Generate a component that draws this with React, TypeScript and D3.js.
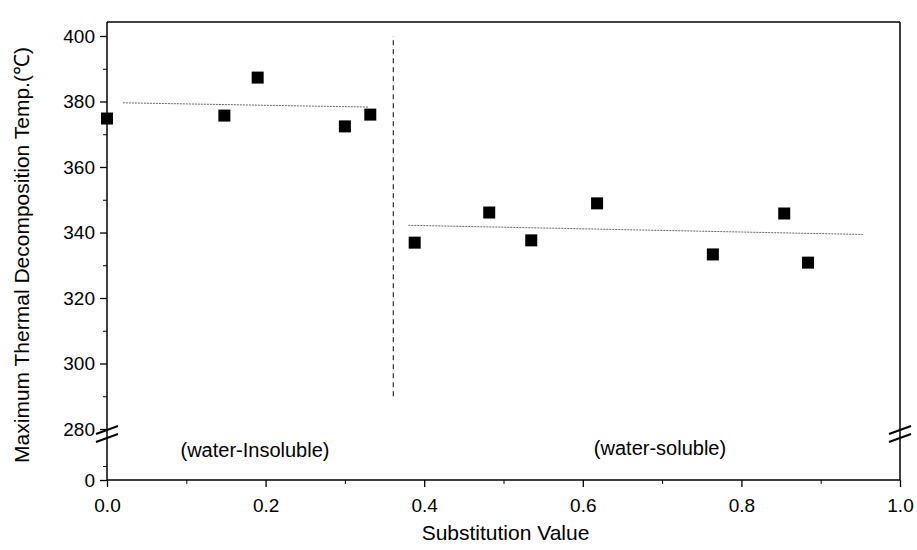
import React, { useRef, useEffect } from 'react';
import * as d3 from 'd3';

// substitution value vs max thermal decomposition temperature
const subValues = [0.0, 0.148, 0.19, 0.30, 0.332, 0.388, 0.482, 0.535, 0.618, 0.764, 0.854, 0.884];
const tempValues = [374.8, 375.7, 387.3, 372.4, 376.0, 336.9, 346.1, 337.6, 348.9, 333.3, 345.8, 330.8];

// fitted lines (start, end)
const fitInsolubleX = [0.02, 0.33];
const fitInsolubleY = [379.6, 378.3];
const fitSolubleX = [0.38, 0.953];
const fitSolubleY = [342.2, 339.4];

const dividerX = 0.361;
const dividerY = [290, 400];

const xTicks = [0.0, 0.2, 0.4, 0.6, 0.8, 1.0];
const xMinorTicks = [0.1, 0.3, 0.5, 0.7, 0.9];
const yTicks = [280, 300, 320, 340, 360, 380, 400];
const yMinorTicks = [290, 310, 330, 350, 370, 390];
const yLowTicks = [0];
const yLowMinorTicks = [10];

const FONT = '"Liberation Sans", Arial, Helvetica, sans-serif';

const App = () => {
  const svgRef = useRef<SVGSVGElement>(null);

  useEffect(() => {
    const svg = d3.select(svgRef.current);
    svg.selectAll('*').remove();

    const left = 107, right = 900, top = 22, bottom = 480;

    const x = d3.scaleLinear().domain([0, 1]).range([left, right]);
    const y = d3.scaleLinear().domain([280, 400]).range([429, 36]);
    const yLow = d3.scaleLinear().domain([0, 20]).range([bottom, 452]);

    const g = svg.append('g');

    // frame
    const frame = [
      [left, top, right, top],
      [right, top, right, bottom],
      [left, top, left, bottom],
      [left, bottom, right, bottom],
    ];
    frame.forEach(([x1, y1, x2, y2]) => {
      g.append('line').attr('x1', x1).attr('y1', y1).attr('x2', x2).attr('y2', y2)
        .attr('stroke', '#000').attr('stroke-width', 1.5);
    });

    // x axis
    const xAxis = g.append('g').attr('transform', `translate(0,${bottom})`)
      .call(d3.axisBottom(x).tickValues(xTicks).tickSize(7).tickPadding(12).tickFormat(d3.format('.1f')));
    xAxis.select('.domain').remove();
    xAxis.selectAll('line').attr('stroke-width', 1.3);
    xAxis.selectAll('text').style('font-family', FONT).style('font-size', '19px').attr('fill', '#000');

    const xMinor = g.append('g').attr('transform', `translate(0,${bottom})`)
      .call(d3.axisBottom(x).tickValues(xMinorTicks).tickSize(4).tickFormat(() => ''));
    xMinor.select('.domain').remove();

    // y axis (upper segment)
    const yAxis = g.append('g').attr('transform', `translate(${left},0)`)
      .call(d3.axisLeft(y).tickValues(yTicks).tickSize(7).tickPadding(5));
    yAxis.select('.domain').remove();
    yAxis.selectAll('line').attr('stroke-width', 1.3);
    yAxis.selectAll('text').style('font-family', FONT).style('font-size', '19px').attr('fill', '#000');

    const yMinor = g.append('g').attr('transform', `translate(${left},0)`)
      .call(d3.axisLeft(y).tickValues(yMinorTicks).tickSize(4).tickFormat(() => ''));
    yMinor.select('.domain').remove();

    // y axis (lower segment)
    const yLowAxis = g.append('g').attr('transform', `translate(${left},0)`)
      .call(d3.axisLeft(yLow).tickValues(yLowTicks).tickSize(7).tickPadding(5));
    yLowAxis.select('.domain').remove();
    yLowAxis.selectAll('line').attr('stroke-width', 1.3);
    yLowAxis.selectAll('text').style('font-family', FONT).style('font-size', '19px').attr('fill', '#000');

    const yLowMinor = g.append('g').attr('transform', `translate(${left},0)`)
      .call(d3.axisLeft(yLow).tickValues(yLowMinorTicks).tickSize(4).tickFormat(() => ''));
    yLowMinor.select('.domain').remove();

    // axis break marks
    const breakY = 434;
    [left, right].forEach(ax => {
      [-4, 4].forEach(off => {
        g.append('line')
          .attr('x1', ax - 11).attr('y1', breakY + off + 4)
          .attr('x2', ax + 11).attr('y2', breakY + off - 4)
          .attr('stroke', '#000').attr('stroke-width', 2);
      });
    });

    // divider
    g.append('line')
      .attr('x1', x(dividerX)).attr('x2', x(dividerX))
      .attr('y1', y(dividerY[0])).attr('y2', y(dividerY[1]))
      .attr('stroke', '#000').attr('stroke-width', 1).attr('stroke-dasharray', '5,4');

    // fitted lines
    const line = d3.line<[number, number]>().x(d => x(d[0])).y(d => y(d[1]));
    g.append('path')
      .attr('d', line(fitInsolubleX.map((v, i) => [v, fitInsolubleY[i]] as [number, number])))
      .attr('stroke', '#666').attr('stroke-width', 1).attr('fill', 'none').attr('stroke-dasharray', '2,1');
    g.append('path')
      .attr('d', line(fitSolubleX.map((v, i) => [v, fitSolubleY[i]] as [number, number])))
      .attr('stroke', '#666').attr('stroke-width', 1).attr('fill', 'none').attr('stroke-dasharray', '2,1');

    // points
    const s = 12;
    g.selectAll('.pt')
      .data(subValues.map((v, i) => [v, tempValues[i]]))
      .join('rect')
      .attr('class', 'pt')
      .attr('x', d => x(d[0]) - s / 2)
      .attr('y', d => y(d[1]) - s / 2)
      .attr('width', s)
      .attr('height', s)
      .attr('fill', '#000');

    // region labels
    g.append('text').attr('x', 255).attr('y', 457).attr('text-anchor', 'middle')
      .style('font-family', FONT).style('font-size', '20px').text('(water-Insoluble)');
    g.append('text').attr('x', 660).attr('y', 455).attr('text-anchor', 'middle')
      .style('font-family', FONT).style('font-size', '20px').text('(water-soluble)');

    // axis titles
    g.append('text').attr('x', (left + right) / 2 + 2).attr('y', 540).attr('text-anchor', 'middle')
      .style('font-family', FONT).style('font-size', '21px').text('Substitution Value');
    g.append('text')
      .attr('transform', `translate(29,${(top + bottom) / 2 + 4}) rotate(-90)`)
      .attr('text-anchor', 'middle')
      .style('font-family', FONT).style('font-size', '21px')
      .text('Maximum Thermal Decomposition Temp.(\u2103)');
  }, []);

  return (
    <div style={{ position: 'fixed', left: 0, top: 0, width: 917, height: 550, background: '#fff' }}>
      <svg ref={svgRef} width={917} height={550} style={{ display: 'block' }}></svg>
    </div>
  );
};

export default App;
